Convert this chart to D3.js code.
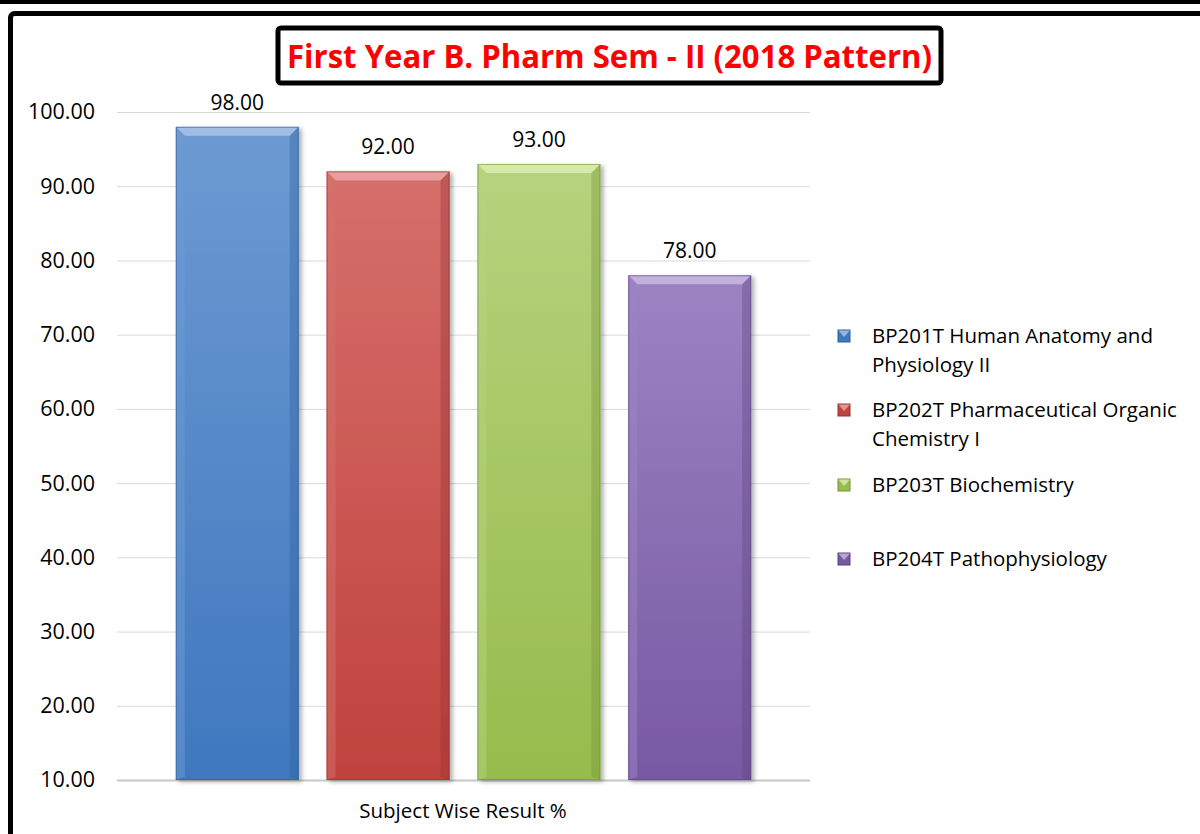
<!DOCTYPE html>
<html>
<head>
<meta charset="utf-8">
<script src="https://cdn.jsdelivr.net/npm/d3@7"></script>
<style>
  body { margin: 0; background: #fff; }
  svg { display: block; font-family: "Open Sans", Calibri, sans-serif; }
</style>
</head>
<body>
<script>
var subjects = ['BP201T Human Anatomy and Physiology II',
  'BP202T Pharmaceutical Organic Chemistry I',
  'BP203T Biochemistry',
  'BP204T Pathophysiology'];
var legendLines = [['BP201T Human Anatomy and', 'Physiology II'],
  ['BP202T Pharmaceutical Organic', 'Chemistry I'],
  ['BP203T Biochemistry'],
  ['BP204T Pathophysiology']];
var results = [98, 92, 93, 78];
var yTicks = [10, 20, 30, 40, 50, 60, 70, 80, 90, 100];
var titleText = 'First Year B. Pharm Sem - II (2018 Pattern)';
var xLabel = 'Subject Wise Result %';

// bar colours: light (top), base, dark (edge)
var colors = [
  { light: '#a9c4e8', top: '#6d9ad2', bottom: '#3f78bf', dark: '#2f5f9c' },
  { light: '#eba7a5', top: '#d66f6b', bottom: '#c0423e', dark: '#963230' },
  { light: '#dcedb0', top: '#b6d37d', bottom: '#97bb4c', dark: '#74933a' },
  { light: '#c9b8e2', top: '#9c84c3', bottom: '#7759a2', dark: '#5b437f' }
];

var width = 1200, height = 834;
var svg = d3.select('body').append('svg').attr('width', width).attr('height', height);
var defs = svg.append('defs');

colors.forEach(function (c, i) {
  var g = defs.append('linearGradient').attr('id', 'grad' + i)
    .attr('x1', 0).attr('y1', 0).attr('x2', 0).attr('y2', 1);
  g.append('stop').attr('offset', '0%').attr('stop-color', c.top);
  g.append('stop').attr('offset', '100%').attr('stop-color', c.bottom);
});
var shadow = defs.append('filter').attr('id', 'shadow')
  .attr('x', '-10%').attr('y', '-10%').attr('width', '130%').attr('height', '130%');
shadow.append('feDropShadow').attr('dx', 3).attr('dy', 2).attr('stdDeviation', 2)
  .attr('flood-color', '#000').attr('flood-opacity', 0.3);

// frame
svg.append('rect').attr('x', 0).attr('y', 0).attr('width', width).attr('height', 4).attr('fill', '#000');
svg.append('rect').attr('x', 10.5).attr('y', 13.5).attr('width', width + 20).attr('height', height + 20)
  .attr('rx', 4).attr('fill', 'none').attr('stroke', '#000').attr('stroke-width', 5);

// scales
var plotLeft = 117, plotRight = 810;
var y = d3.scaleLinear().domain([10, 100]).range([780, 112]);
var x = d3.scaleBand().domain(subjects).range([plotLeft, plotRight])
  .paddingInner(0.185).paddingOuter(0.39);

// gridlines
svg.append('g').selectAll('line').data(yTicks).enter().append('line')
  .attr('x1', plotLeft).attr('x2', plotRight)
  .attr('y1', function (d) { return y(d) + 0.5; })
  .attr('y2', function (d) { return y(d) + 0.5; })
  .attr('stroke', function (d) { return d === 10 ? '#c8c8c8' : '#d9d9d9'; })
  .attr('stroke-width', function (d) { return d === 10 ? 2 : 1; });

// y axis labels
var yAxis = svg.append('g').attr('transform', 'translate(95,0)')
  .call(d3.axisLeft(y).tickValues(yTicks).tickFormat(d3.format('.2f')).tickSize(0).tickPadding(0));
yAxis.select('.domain').remove();
yAxis.selectAll('text').attr('font-size', 21.5).attr('fill', '#000')
  .attr('font-family', '"Open Sans", sans-serif');

// bars with bevel
var bw = x.bandwidth(), bev = 9;
var bars = svg.append('g').selectAll('g').data(results).enter().append('g')
  .attr('filter', 'url(#shadow)');
bars.append('rect')
  .attr('x', function (d, i) { return x(subjects[i]); })
  .attr('y', function (d) { return y(d); })
  .attr('width', bw)
  .attr('height', function (d) { return y(10) - y(d); })
  .attr('fill', function (d, i) { return 'url(#grad' + i + ')'; });
// top bevel
bars.append('path')
  .attr('d', function (d, i) {
    var x0 = x(subjects[i]), y0 = y(d);
    return 'M' + x0 + ',' + y0 + 'L' + (x0 + bw) + ',' + y0 +
      'L' + (x0 + bw - bev) + ',' + (y0 + bev) + 'L' + (x0 + bev) + ',' + (y0 + bev) + 'Z';
  })
  .attr('fill', function (d, i) { return colors[i].light; }).attr('opacity', 0.85);
// left bevel
bars.append('path')
  .attr('d', function (d, i) {
    var x0 = x(subjects[i]), y0 = y(d), y1 = y(10);
    return 'M' + x0 + ',' + y0 + 'L' + (x0 + bev) + ',' + (y0 + bev) +
      'L' + (x0 + bev) + ',' + (y1 - 3) + 'L' + x0 + ',' + y1 + 'Z';
  })
  .attr('fill', function (d, i) { return colors[i].top; }).attr('opacity', 0.5);
// right bevel
bars.append('path')
  .attr('d', function (d, i) {
    var x0 = x(subjects[i]) + bw, y0 = y(d), y1 = y(10);
    return 'M' + x0 + ',' + y0 + 'L' + (x0 - bev) + ',' + (y0 + bev) +
      'L' + (x0 - bev) + ',' + (y1 - 3) + 'L' + x0 + ',' + y1 + 'Z';
  })
  .attr('fill', function (d, i) { return colors[i].dark; }).attr('opacity', 0.35);
// outline
bars.append('rect')
  .attr('x', function (d, i) { return x(subjects[i]) + 0.5; })
  .attr('y', function (d) { return y(d) + 0.5; })
  .attr('width', bw - 1)
  .attr('height', function (d) { return y(10) - y(d) - 1; })
  .attr('fill', 'none')
  .attr('stroke', function (d, i) { return colors[i].dark; }).attr('stroke-opacity', 0.6);

// value labels
svg.append('g').selectAll('text').data(results).enter().append('text')
  .attr('x', function (d, i) { return x(subjects[i]) + bw / 2; })
  .attr('y', function (d) { return y(d) - 17; })
  .attr('text-anchor', 'middle').attr('font-size', 21).attr('fill', '#000')
  .text(function (d) { return d3.format('.2f')(d); });

// x label
svg.append('text').attr('x', 463).attr('y', 818).attr('text-anchor', 'middle')
  .attr('font-size', 20.5).attr('fill', '#000').text(xLabel);

// title box
svg.append('rect').attr('x', 278).attr('y', 28).attr('width', 663).attr('height', 55)
  .attr('rx', 3).attr('fill', '#fff').attr('stroke', '#000').attr('stroke-width', 5);
svg.append('text').attr('x', 287).attr('y', 68)
  .attr('font-size', 33).attr('font-weight', 'bold').attr('fill', '#ff0000')
  .attr('textLength', 645).attr('lengthAdjust', 'spacingAndGlyphs')
  .text(titleText);

// legend
var legendY = [336, 410, 485, 559];
var legend = svg.append('g').selectAll('g').data(legendLines).enter().append('g')
  .attr('transform', function (d, i) { return 'translate(838,' + legendY[i] + ')'; });
legend.append('rect').attr('x', 0).attr('y', -6).attr('width', 12).attr('height', 12)
  .attr('fill', function (d, i) { return colors[i].bottom; })
  .attr('stroke', function (d, i) { return colors[i].dark; }).attr('stroke-width', 1);
legend.append('path').attr('d', 'M0.5,-5.5L12,-5.5L6,1Z')
  .attr('fill', function (d, i) { return colors[i].light; }).attr('opacity', 0.8);
legend.selectAll('text').data(function (d) { return d; }).enter().append('text')
  .attr('x', 34).attr('y', function (d, j) { return 7 + j * 29; })
  .attr('font-size', 20.5).attr('fill', '#000')
  .text(function (d) { return d; });
</script>
</body>
</html>
